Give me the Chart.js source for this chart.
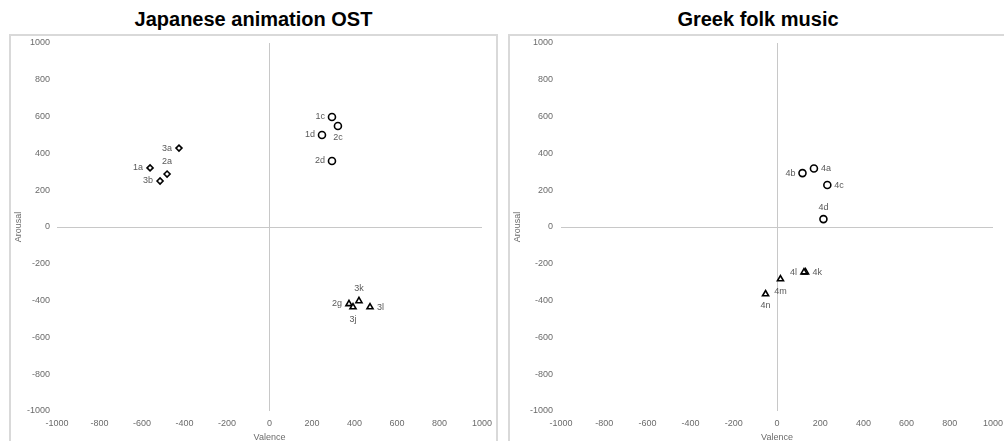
<!DOCTYPE html>
<html>
<head>
<meta charset="utf-8">
<script src="https://cdn.jsdelivr.net/npm/chart.js@4.4.1/dist/chart.umd.min.js"></script>
<style>
  body { margin: 0; background: #fff; width: 1004px; height: 441px; overflow: hidden; position: relative; font-family: "Liberation Sans", Arial, sans-serif; }
  .title { position: absolute; top: 7px; font-weight: bold; font-size: 20px; line-height: 24px; color: #000; text-align: center; }
  .box { position: absolute; top: 34px; height: 420px; border: 2px solid #d9d9d9; box-sizing: border-box; }
  .box canvas { position: absolute; left: 0; top: 0; }
</style>
</head>
<body>
<div class="title" style="left:9px;width:489px;">Japanese animation OST</div>
<div class="title" style="left:508px;width:500px;">Greek folk music</div>
<div class="box" style="left:9px;width:489px;"><canvas id="animeChart" width="485" height="410"></canvas></div>
<div class="box" style="left:508px;width:500px;"><canvas id="greekChart" width="494" height="410"></canvas></div>
<script>
/*--Japanese animation OST--*/
var animeDiamondNames = ["1a", "2a", "3a", "3b"];
var animeDiamondValence = [-562, -482, -426, -515];
var animeDiamondArousal = [321, 288, 429, 250];

var animeCircleNames = ["1c", "2c", "1d", "2d"];
var animeCircleValence = [294, 322, 247, 294];
var animeCircleArousal = [598, 549, 500, 359];

var animeTriangleNames = ["2g", "3j", "3k", "3l"];
var animeTriangleValence = [374, 393, 421, 473];
var animeTriangleArousal = [-418, -435, -402, -435];

/*--Greek folk music--*/
var greekCircleNames = ["4a", "4b", "4c", "4d"];
var greekCircleValence = [171, 118, 233, 215];
var greekCircleArousal = [318, 293, 228, 43];

var greekTriangleNames = ["4k", "4l", "4m", "4n"];
var greekTriangleValence = [132, 125, 16, -53];
var greekTriangleArousal = [-245, -245, -283, -364];

var axisTicks = [-1000, -800, -600, -400, -200, 0, 200, 400, 600, 800, 1000];

// where each point's name sits relative to the marker
var animeDiamondLabelPos = ["left", "above", "left", "left"];
var animeCircleLabelPos = ["left", "below", "left", "left"];
var animeTriangleLabelPos = ["left", "below", "above", "right"];
var greekCircleLabelPos = ["right", "left", "right", "above"];
var greekTriangleLabelPos = ["right", "left", "below", "below"];

var tickFont = { family: "'Liberation Sans', Arial, sans-serif", size: 9 };
var grey = "#6b6b6b";

function toPoints(xs, ys) {
  return xs.map(function (x, i) { return { x: x, y: ys[i] }; });
}

function series(names, xs, ys, style, radius, pos) {
  return {
	data: toPoints(xs, ys),
	names: names,
	labelPos: pos,
	pointStyle: style,
	pointRadius: radius,
	pointHoverRadius: radius,
	pointBorderWidth: 1.6,
	borderColor: "#000",
	backgroundColor: "#fff",
	showLine: false
  };
}

// draws the point names next to the markers
var pointNames = {
  id: "pointNames",
  afterDatasetsDraw: function (chart) {
	var ctx = chart.ctx;
	ctx.save();
	ctx.font = "9px 'Liberation Sans', Arial, sans-serif";
	ctx.fillStyle = "#595959";
	chart.data.datasets.forEach(function (ds, di) {
	  chart.getDatasetMeta(di).data.forEach(function (pt, i) {
		var p = ds.labelPos[i];
		var x = pt.x, y = pt.y;
		ctx.textBaseline = "middle";
		if (p === "left") { ctx.textAlign = "right"; x -= 7; }
		else if (p === "right") { ctx.textAlign = "left"; x += 7; }
		else if (p === "above") { ctx.textAlign = "center"; y -= 12; }
		else { ctx.textAlign = "center"; y += 12; }
		ctx.fillText(ds.names[i], x, y);
	  });
	});
	ctx.restore();
  }
};

function axis(pos, title, width, tickPad) {
  return {
	type: "linear",
	position: pos,
	min: -1000,
	max: 1000,
	afterBuildTicks: function (s) { s.ticks = axisTicks.map(function (v) { return { value: v }; }); },
	afterFit: function (s) {
	  // fixed axis band, and no extra room for end labels
	  if (pos === "left") { s.width = width; s.paddingTop = 0; s.paddingBottom = 0; }
	  else { s.height = width; s.paddingLeft = 0; s.paddingRight = 0; }
	},
	grid: {
	  drawTicks: false,
	  lineWidth: 1,
	  color: function (c) { return c.tick && c.tick.value === 0 ? "#c8c8c8" : "rgba(0,0,0,0)"; }
	},
	border: { display: false },
	ticks: {
	  font: tickFont, color: grey, padding: tickPad, autoSkip: false, maxRotation: 0,
	  callback: function (v) { return String(v); }
	},
	title: { display: true, text: title, font: tickFont, color: grey, padding: { top: 2, bottom: 3 } }
  };
}

function makeChart(id, datasets, yWidth, yPad, rightPad) {
  return new Chart(document.getElementById(id), {
	type: "scatter",
	data: { datasets: datasets },
	options: {
	  responsive: false,
	  animation: false,
	  layout: { autoPadding: false, padding: { top: 7, right: rightPad, left: 0, bottom: 0 } },
	  scales: {
		x: axis("bottom", "Valence", 35, 7),
		y: axis("left", "Arousal", yWidth, yPad)
	  },
	  plugins: { legend: { display: false }, tooltip: { enabled: false } }
	},
	plugins: [pointNames]
  });
}

var animeChart = makeChart("animeChart", [
  series(animeDiamondNames, animeDiamondValence, animeDiamondArousal, "rectRot", 3, animeDiamondLabelPos),
  series(animeCircleNames, animeCircleValence, animeCircleArousal, "circle", 3.5, animeCircleLabelPos),
  series(animeTriangleNames, animeTriangleValence, animeTriangleArousal, "triangle", 3.5, animeTriangleLabelPos)
], 46, 7, 14);

var greekChart = makeChart("greekChart", [
  series(greekCircleNames, greekCircleValence, greekCircleArousal, "circle", 3.5, greekCircleLabelPos),
  series(greekTriangleNames, greekTriangleValence, greekTriangleArousal, "triangle", 3.5, greekTriangleLabelPos)
], 51, 8, 11);
</script>
</body>
</html>
